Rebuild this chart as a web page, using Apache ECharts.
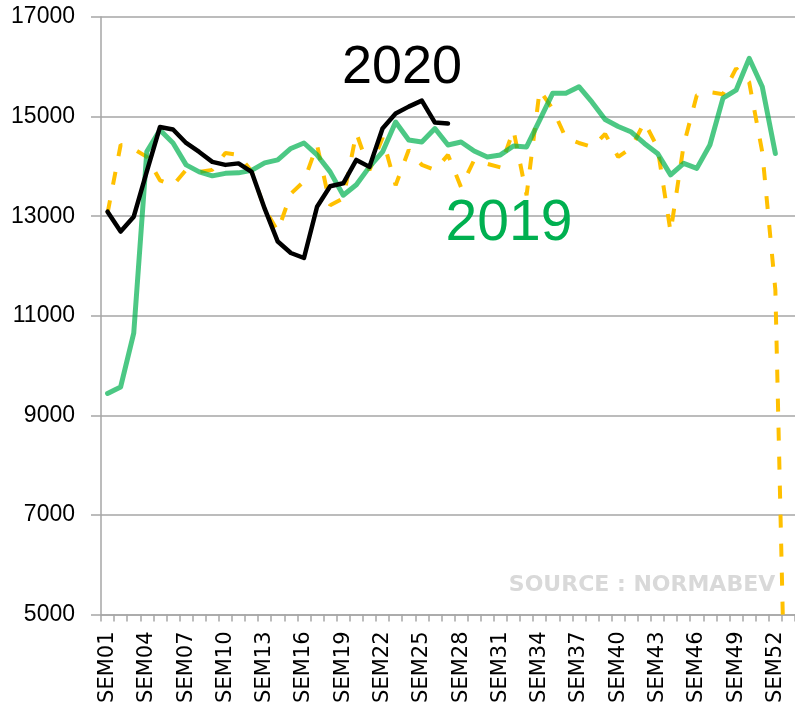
<!DOCTYPE html>
<html>
<head>
<meta charset="utf-8">
<script src="https://cdn.jsdelivr.net/npm/echarts@6/dist/echarts.min.js"></script>
<style>
	html, body { margin: 0; padding: 0; background: #fff; }
	#chart { width: 795px; height: 708px; }
</style>
</head>
<body>
<div id="chart"></div>
<script>
	// semaines (53, la derniere n'a pas de libelle visible)
	const semaines = ['SEM01','SEM02','SEM03','SEM04','SEM05','SEM06','SEM07','SEM08','SEM09','SEM10',
		'SEM11','SEM12','SEM13','SEM14','SEM15','SEM16','SEM17','SEM18','SEM19','SEM20',
		'SEM21','SEM22','SEM23','SEM24','SEM25','SEM26','SEM27','SEM28','SEM29','SEM30',
		'SEM31','SEM32','SEM33','SEM34','SEM35','SEM36','SEM37','SEM38','SEM39','SEM40',
		'SEM41','SEM42','SEM43','SEM44','SEM45','SEM46','SEM47','SEM48','SEM49','SEM50',
		'SEM51','SEM52','SEM53'];

	const annee2020 = [13090, 12690, 12990, 13900, 14790, 14740, 14470, 14290, 14090, 14030,
		14060, 13890, 13150, 12490, 12260, 12160, 13190, 13600, 13660, 14130,
		13990, 14760, 15060, 15200, 15320, 14880, 14860];

	const annee2019 = [9440, 9570, 10650, 14300, 14730, 14470, 14030, 13890, 13810, 13860,
		13870, 13920, 14070, 14130, 14360, 14470, 14230, 13890, 13420, 13630,
		13990, 14290, 14890, 14530, 14490, 14760, 14430, 14490, 14310, 14190,
		14230, 14410, 14390, 14930, 15470, 15470, 15600, 15290, 14940, 14800,
		14690, 14460, 14260, 13830, 14060, 13960, 14430, 15370, 15530, 16170,
		15600, 14260, null];

	const anneeTirets = [13060, 14430, 14350, 14190, 13720, 13620, 13930, 13890, 13930, 14270,
		14230, 13900, 13150, 12700, 13450, 13700, 14430, 13220, 13360, 14670,
		13920, 14570, 13620, 14330, 14030, 13930, 14230, 13580, 14130, 14050,
		13980, 14730, 13420, 15530, 15150, 14570, 14470, 14390, 14650, 14190,
		14370, 14890, 14380, 12680, 14430, 15430, 15490, 15450, 15970, 15690,
		14290, 11520, 0];

	const yMin = 5000, yMax = 17000, yPas = 2000;

	let chart = echarts.init(document.getElementById('chart'));
	const option = {
		animation: false,
		grid: {
			left: 101,
			right: -6,
			top: 17,
			bottom: 93.5
		},
		xAxis: {
			type: 'category',
			data: semaines,
			boundaryGap: true,
			axisLine: { lineStyle: { color: '#a6a6a6', width: 1.5 } },
			axisTick: { show: true, interval: 0, length: 7, lineStyle: { color: '#a6a6a6', width: 1.5 } },
			axisLabel: {
				interval: 2,
				rotate: 90,
				margin: 17,
				color: '#000',
				fontFamily: 'DejaVu Sans',
				fontSize: 21
			}
		},
		yAxis: {
			type: 'value',
			min: yMin,
			max: yMax,
			interval: yPas,
			axisLine: { show: true, lineStyle: { color: '#a6a6a6', width: 1.5 } },
			axisTick: { show: true, length: 10, lineStyle: { color: '#a6a6a6', width: 1.5 } },
			axisLabel: {
				margin: 26,
				color: '#000',
				fontFamily: 'Liberation Sans',
				fontSize: 23,
				formatter: v => String(v)
			},
			splitLine: { lineStyle: { color: '#a6a6a6', width: 1.5 } }
		},
		series: [
			{
				name: 'tirets',
				type: 'line',
				data: anneeTirets,
				symbol: 'none',
				clip: true,
				lineStyle: { color: '#ffc000', width: 4, type: [13, 16], cap: 'butt' },
				z: 2
			},
			{
				name: '2019',
				type: 'line',
				data: annee2019,
				symbol: 'none',
				clip: true,
				lineStyle: { color: '#00b050', width: 5, opacity: 0.7, join: 'round', cap: 'round' },
				z: 3
			},
			{
				name: '2020',
				type: 'line',
				data: annee2020,
				symbol: 'none',
				clip: true,
				lineStyle: { color: '#000', width: 4.5, join: 'round', cap: 'round' },
				z: 4
			}
		],
		graphic: [
			{
				type: 'text',
				z: 10,
				style: { text: '2020', x: 402, y: 68, fill: '#000', fontFamily: 'Liberation Sans', fontSize: 54, align: 'center', verticalAlign: 'middle' }
			},
			{
				type: 'text',
				z: 10,
				style: { text: '2019', x: 509, y: 224, fill: '#00b050', fontFamily: 'Liberation Sans', fontSize: 57, align: 'center', verticalAlign: 'middle' }
			},
			{
				type: 'text',
				z: 10,
				style: { text: 'SOURCE : NORMABEV', x: 642, y: 585, fill: '#d9d9d9', fontFamily: 'DejaVu Sans', fontWeight: 'bold', fontSize: 22, align: 'center', verticalAlign: 'middle' }
			}
		]
	};
	chart.setOption(option);
	window.addEventListener('resize', () => {
		chart.resize();
	});
</script>
</body>
</html>
